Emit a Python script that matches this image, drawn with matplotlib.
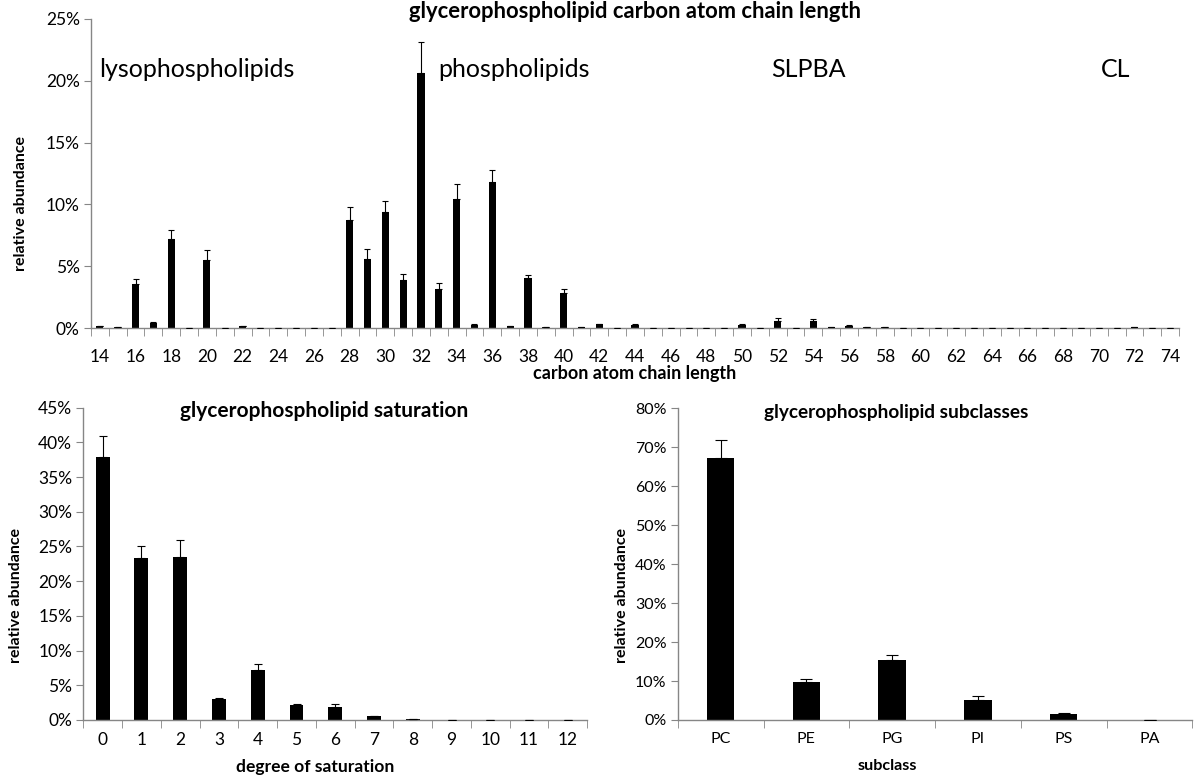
import numpy as np
import matplotlib.pyplot as plt
from matplotlib.ticker import FuncFormatter, FixedLocator

plt.rcParams['font.family'] = ['Lato', 'DejaVu Sans']

# chain length data (% relative abundance), 14..74
chain = list(range(14, 75))
chain_val = [0.15, 0.05, 3.56, 0.4, 7.2, 0.02, 5.53, 0.02, 0.15, 0.02,
             0.02, 0.02, 0.02, 0.02, 8.7, 5.6, 9.4, 3.9, 20.65, 3.18,
             10.46, 0.27, 11.8, 0.15, 4.05, 0.05, 2.86, 0.05, 0.3, 0.02,
             0.27, 0.02, 0.02, 0.02, 0.02, 0.02, 0.25, 0.02, 0.6, 0.02,
             0.55, 0.05, 0.2, 0.05, 0.1, 0.02, 0.02, 0.02, 0.02, 0.02,
             0.02, 0.02, 0.02, 0.02, 0.02, 0.02, 0.02, 0.02, 0.08, 0.02,
             0.02]
chain_err = [0.02, 0.0, 0.4, 0.05, 0.75, 0.0, 0.8, 0.0, 0.03, 0.0,
             0.0, 0.0, 0.0, 0.0, 1.1, 0.8, 0.9, 0.5, 2.5, 0.5,
             1.2, 0.03, 1.0, 0.02, 0.25, 0.0, 0.3, 0.0, 0.05, 0.0,
             0.04, 0.0, 0.0, 0.0, 0.0, 0.0, 0.04, 0.0, 0.2, 0.0,
             0.15, 0.0, 0.03, 0.0, 0.02, 0.0, 0.0, 0.0, 0.0, 0.0,
             0.0, 0.0, 0.0, 0.0, 0.0, 0.0, 0.0, 0.0, 0.01, 0.0,
             0.0]

# saturation
sat = list(range(13))
sat_val = [37.85, 23.4, 23.45, 2.98, 7.2, 2.16, 1.87, 0.53, 0.1, 0.03, 0.03, 0.03, 0.05]
sat_err = [3.1, 1.7, 2.5, 0.2, 0.8, 0.15, 0.4, 0.1, 0.02, 0.0, 0.0, 0.0, 0.01]

# subclasses
sub = ['PC', 'PE', 'PG', 'PI', 'PS', 'PA']
sub_val = [67.3, 9.7, 15.3, 5.2, 1.55, 0.05]
sub_err = [4.5, 0.7, 1.4, 1.05, 0.25, 0.01]

region_labels = ['lysophospholipids', 'phospholipids', 'SLPBA', 'CL']
region_x = [0.0074, 0.319, 0.625, 0.928]

grey = '#868686'
pct = FuncFormatter(lambda v, p: f'{v:.0f}%')


def style(ax, n, ymax, ystep, fs, pad):
    for s in ['top', 'right']:
        ax.spines[s].set_visible(False)
    for s in ['left', 'bottom']:
        ax.spines[s].set_color(grey)
        ax.spines[s].set_linewidth(1.0)
    ax.set_xlim(-0.5, n - 0.5)
    ax.set_ylim(0, ymax)
    ax.set_yticks(np.arange(0, ymax + 0.01, ystep))
    ax.yaxis.set_major_formatter(pct)
    ax.xaxis.set_minor_locator(FixedLocator(np.arange(-0.5, n, 1.0)))
    ax.tick_params(axis='x', which='major', length=0, pad=pad, labelsize=fs)
    ax.tick_params(axis='x', which='minor', length=6, color=grey, direction='out')
    ax.tick_params(axis='y', length=5, color=grey, direction='out', labelsize=fs, pad=3)


def plus_bars(ax, x, vals, errs, width, cap):
    ax.bar(x, vals, width=width, color='black', zorder=2)
    ax.errorbar(x, vals, yerr=[np.zeros(len(x)), errs], fmt='none',
                ecolor='black', elinewidth=0.8, capsize=cap, capthick=0.8, zorder=3)


fig = plt.figure(figsize=(11.97, 7.78), dpi=100)

ax1 = fig.add_axes([0.076, 0.5784, 0.909, 0.3972])
x1 = np.arange(len(chain))
plus_bars(ax1, x1, chain_val, chain_err, 0.4, 2.5)
style(ax1, len(chain), 25, 5, 12.5, 15)
ax1.set_xticks(x1[::2])
ax1.set_xticklabels([str(c) for c in chain[::2]])
ax1.set_xlabel('carbon atom chain length', fontsize=13, fontweight='bold')
ax1.xaxis.set_label_coords(0.5, -0.12)
ax1.set_ylabel('relative abundance', fontsize=11.5, fontweight='bold')
ax1.yaxis.set_label_coords(-0.058, 0.402)
ax1.text(0.5, 1.023, 'glycerophospholipid carbon atom chain length', transform=ax1.transAxes,
         ha='center', va='center', fontsize=15.8, fontweight='bold')
for lab, xr in zip(region_labels, region_x):
    ax1.text(xr, 0.835, lab, transform=ax1.transAxes, ha='left', va='center', fontsize=18)

ax2 = fig.add_axes([0.0696, 0.0746, 0.421, 0.4014])
x2 = np.arange(len(sat))
plus_bars(ax2, x2, sat_val, sat_err, 0.36, 3)
style(ax2, len(sat), 45, 5, 12.5, 9)
ax2.set_xticks(x2)
ax2.set_xticklabels([str(s) for s in sat])
ax2.set_xlabel('degree of saturation', fontsize=12.6, fontweight='bold')
ax2.xaxis.set_label_coords(0.461, -0.125)
ax2.set_ylabel('relative abundance', fontsize=11.5, fontweight='bold')
ax2.yaxis.set_label_coords(-0.12, 0.40)
ax2.text(0.478, 0.988, 'glycerophospholipid saturation', transform=ax2.transAxes,
         ha='center', va='center', fontsize=15, fontweight='bold')

ax3 = fig.add_axes([0.5662, 0.0746, 0.430, 0.4006])
x3 = np.arange(len(sub))
plus_bars(ax3, x3, sub_val, sub_err, 0.32, 4)
style(ax3, len(sub), 80, 10, 11.5, 9)
ax3.set_xticks(x3)
ax3.set_xticklabels(sub)
ax3.set_xlabel('subclass', fontsize=11.6, fontweight='bold')
ax3.xaxis.set_label_coords(0.408, -0.125)
ax3.set_ylabel('relative abundance', fontsize=11.5, fontweight='bold')
ax3.yaxis.set_label_coords(-0.095, 0.40)
ax3.text(0.424, 0.985, 'glycerophospholipid subclasses', transform=ax3.transAxes,
         ha='center', va='center', fontsize=13.7, fontweight='bold')

fig.savefig('out.png', dpi=100)
